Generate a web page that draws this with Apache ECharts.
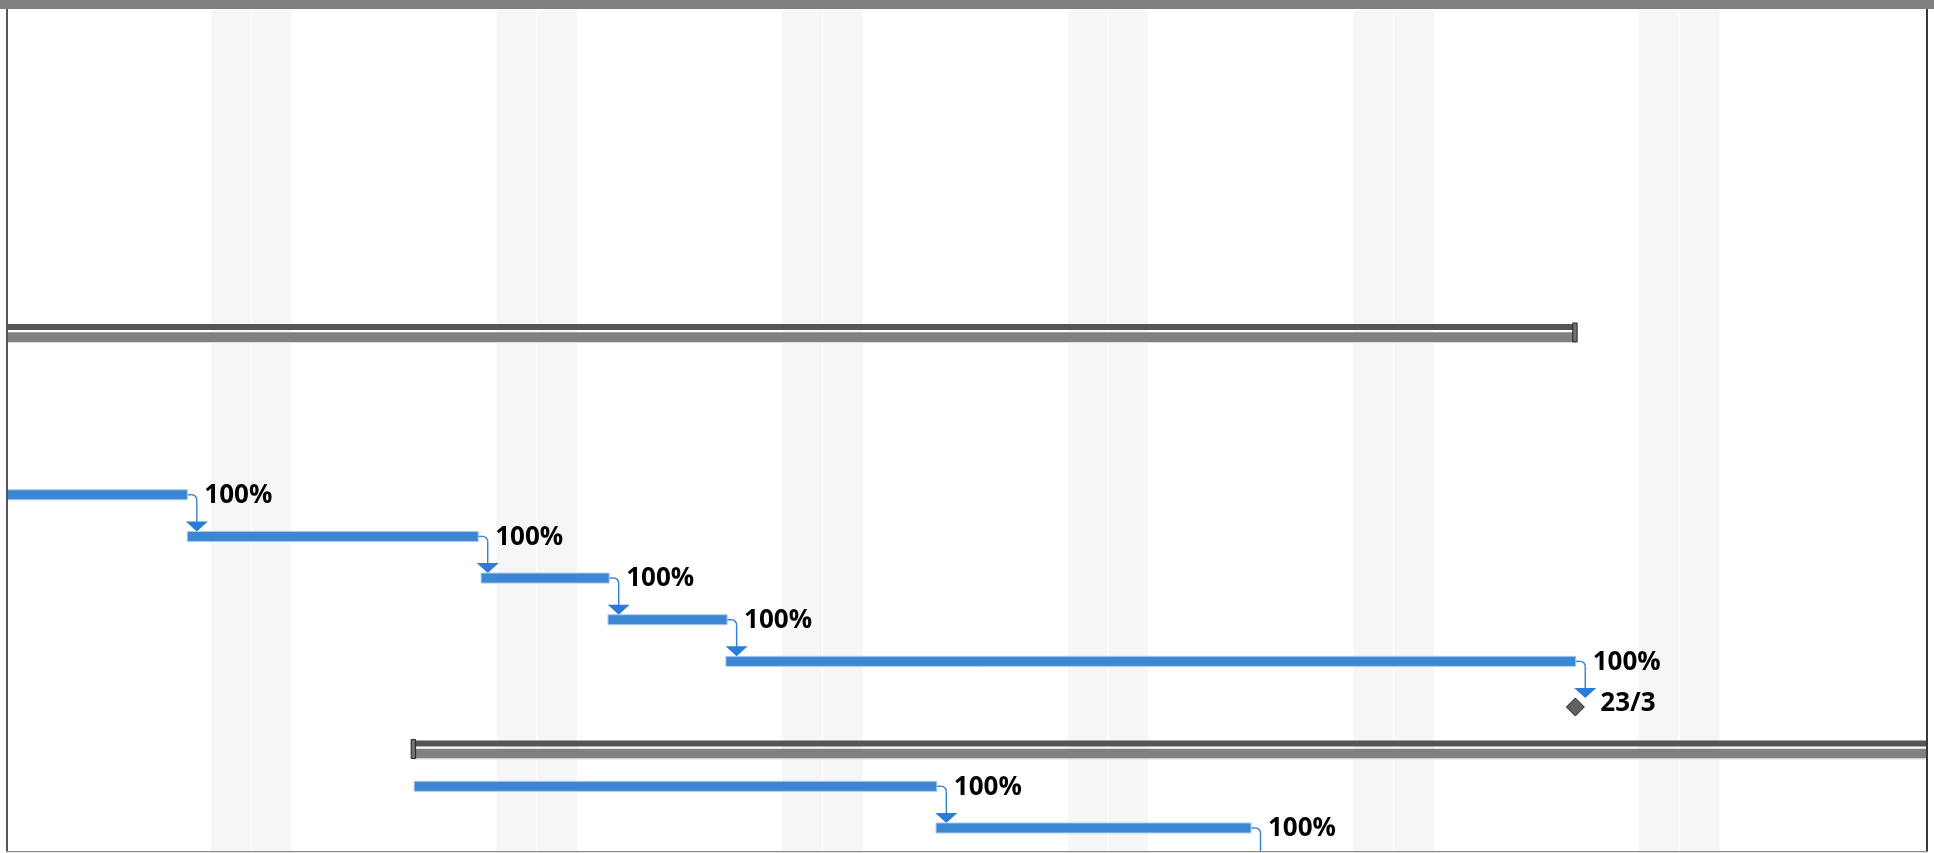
<!DOCTYPE html>
<html><head><meta charset="utf-8">
<script src="https://cdn.jsdelivr.net/npm/echarts@6/dist/echarts.min.js"></script>
<style>html,body{margin:0;padding:0;background:#fff;overflow:hidden}#c{width:1934px;height:853px}</style>
</head><body><div id="c"></div>
<script>
// Time unit: days counted from Monday 13 Feb 2023 00:00 (left edge of the view).
// Rows: 0 = first summary, 4..8 tasks, 9 milestone, 10 second summary, 11..13 tasks.
const taskRows    = [4, 5, 6, 7, 8, 11, 12, 13];
const taskStarts  = [-3, 4.42, 11.62, 14.73, 17.62, 9.98, 22.77, 30.50];
const taskEnds    = [4.42, 11.55, 14.76, 17.65, 38.45, 22.79, 30.49, 36.0];
const taskLabels  = ['100%', '100%', '100%', '100%', '100%', '100%', '100%', '100%'];

const summaryRows   = [0, 10];
const summaryStarts = [-6, 9.96];
const summaryEnds   = [38.43, 52];

const milestoneRows   = [9];
const milestoneDays   = [38.44];
const milestoneLabels = ['23/3'];

// finish-to-start links: [predecessor task, successor kind, successor index]
const links = [[0,'t',1],[1,'t',2],[2,'t',3],[3,'t',4],[4,'m',0],[5,'t',6],[6,'t',7]];

// Non-working days (Saturdays and Sundays) in the visible range
const nonWorkingDays = [5, 6, 12, 13, 19, 20, 26, 27, 33, 34, 40, 41];

const BLUE = '#3b87d4', LINK = '#2f7fd8';
const FONT = '"Open Sans", "Noto Sans", sans-serif';

const chart = echarts.init(document.getElementById('c'));

function weekendItem(params, api) {
  const cs = params.coordSys;
  const a = api.coord([api.value(0), 0]);
  const b = api.coord([api.value(0) + 1, 0]);
  return { type: 'rect', shape: { x: a[0], y: cs.y + 1, width: b[0] - a[0] - 1, height: cs.height },
           style: { fill: '#f6f6f6' } };
}

function summaryItem(params, api) {
  const i = params.dataIndex;
  const s = api.coord([summaryStarts[i], summaryRows[i]]);
  const e = api.coord([summaryEnds[i], summaryRows[i]]);
  const y = s[1];
  const w = e[0] - s[0];
  const ch = [
    { type: 'rect', shape: { x: s[0], y: y - 4.2, width: w, height: 6 }, style: { fill: '#555555' } },
    { type: 'rect', shape: { x: s[0], y: y + 4.2, width: w, height: 9.7 }, style: { fill: '#808080' } },
    { type: 'rect', shape: { x: s[0], y: y + 13.9, width: w, height: 1 }, style: { fill: '#dedede' } }
  ];
  [s[0], e[0]].forEach(function (cx) {
    ch.push({ type: 'rect', shape: { x: cx - 2.2, y: y - 5.2, width: 4.4, height: 19 },
              style: { fill: '#707070', stroke: '#262626', lineWidth: 1 } });
  });
  return { type: 'group', children: ch };
}

function taskItem(params, api) {
  const i = params.dataIndex;
  const s = api.coord([taskStarts[i], taskRows[i]]);
  const e = api.coord([taskEnds[i], taskRows[i]]);
  const y = s[1];
  return { type: 'group', children: [
    { type: 'rect', shape: { x: s[0], y: y - 5, width: e[0] - s[0], height: 10 },
      style: { fill: BLUE, stroke: '#a8cbee', lineWidth: 1 } },
    { type: 'text', x: e[0] + 17, y: y + 1,
      style: { text: taskLabels[i], fill: '#000', font: 'bold 26px ' + FONT, verticalAlign: 'middle', align: 'left' } }
  ]};
}

function milestoneItem(params, api) {
  const i = params.dataIndex;
  const p = api.coord([milestoneDays[i], milestoneRows[i]]);
  const cx = p[0], cy = p[1] + 4, h = 9;
  return { type: 'group', children: [
    { type: 'polygon', shape: { points: [[cx, cy - h], [cx + h, cy], [cx, cy + h], [cx - h, cy]] },
      style: { fill: '#606060', stroke: '#262626', lineWidth: 1 } },
    { type: 'text', x: cx + 25, y: p[1] + 1,
      style: { text: milestoneLabels[i], fill: '#000', font: 'bold 26px ' + FONT, verticalAlign: 'middle', align: 'left' } }
  ]};
}

function linkItem(params, api) {
  const L = links[params.dataIndex];
  const pe = api.coord([taskEnds[L[0]], taskRows[L[0]]]);
  const succ = L[1] === 't' ? api.coord([taskStarts[L[2]], taskRows[L[2]]])
                            : api.coord([milestoneDays[L[2]], milestoneRows[L[2]]]);
  const xv = pe[0] + 9.5, y0 = pe[1], r = 5;
  const yTop = succ[1] - 15, yTip = succ[1] - 5;
  const st = { stroke: LINK, lineWidth: 1.4, fill: null };
  return { type: 'group', children: [
    { type: 'line', shape: { x1: pe[0], y1: y0, x2: xv - r, y2: y0 }, style: st },
    { type: 'arc', shape: { cx: xv - r, cy: y0 + r, r: r, startAngle: -Math.PI / 2, endAngle: 0, clockwise: true }, style: st },
    { type: 'line', shape: { x1: xv, y1: y0 + r, x2: xv, y2: yTop + 1 }, style: st },
    { type: 'polygon', shape: { points: [[xv - 11, yTop], [xv + 11, yTop], [xv, yTip]] }, style: { fill: '#2a7cd6' } }
  ]};
}

chart.setOption({
  animation: false,
  backgroundColor: '#ffffff',
  grid: { left: 7, right: 7, top: 9, bottom: 1, containLabel: false },
  xAxis: { type: 'value', min: 0, max: 47.059, show: false },
  yAxis: { type: 'value', min: -7.663, max: 12.577, inverse: true, show: false },
  graphic: [
    { type: 'rect', left: 0, top: 0, shape: { width: 1934, height: 9 }, style: { fill: '#808080' }, z: 100 },
    { type: 'rect', left: 6, top: 9, shape: { width: 2, height: 843 }, style: { fill: '#555555' }, z: 100 },
    { type: 'rect', left: 1926, top: 9, shape: { width: 2, height: 843 }, style: { fill: '#3a3a3a' }, z: 100 },
    { type: 'rect', left: 6, top: 851, shape: { width: 1922, height: 1.2 }, style: { fill: '#8a8a8a' }, z: 100 }
  ],
  series: [
    { type: 'custom', name: 'nonworking', renderItem: weekendItem, clip: true, z: 1,
      data: nonWorkingDays.map(function (d) { return [d]; }), encode: { x: 0 } },
    { type: 'custom', name: 'summary', renderItem: summaryItem, clip: true, z: 2,
      data: summaryRows.map(function (r, i) { return [summaryStarts[i], summaryEnds[i], r]; }), encode: { x: [0, 1], y: 2 } },
    { type: 'custom', name: 'links', renderItem: linkItem, clip: true, z: 3,
      data: links.map(function (l) { return [taskEnds[l[0]], taskRows[l[0]]]; }), encode: { x: 0, y: 1 } },
    { type: 'custom', name: 'tasks', renderItem: taskItem, clip: true, z: 4,
      data: taskRows.map(function (r, i) { return [taskStarts[i], taskEnds[i], r]; }), encode: { x: [0, 1], y: 2 } },
    { type: 'custom', name: 'milestones', renderItem: milestoneItem, clip: true, z: 5,
      data: milestoneRows.map(function (r, i) { return [milestoneDays[i], r]; }), encode: { x: 0, y: 1 } }
  ]
});
</script>
</body></html>
